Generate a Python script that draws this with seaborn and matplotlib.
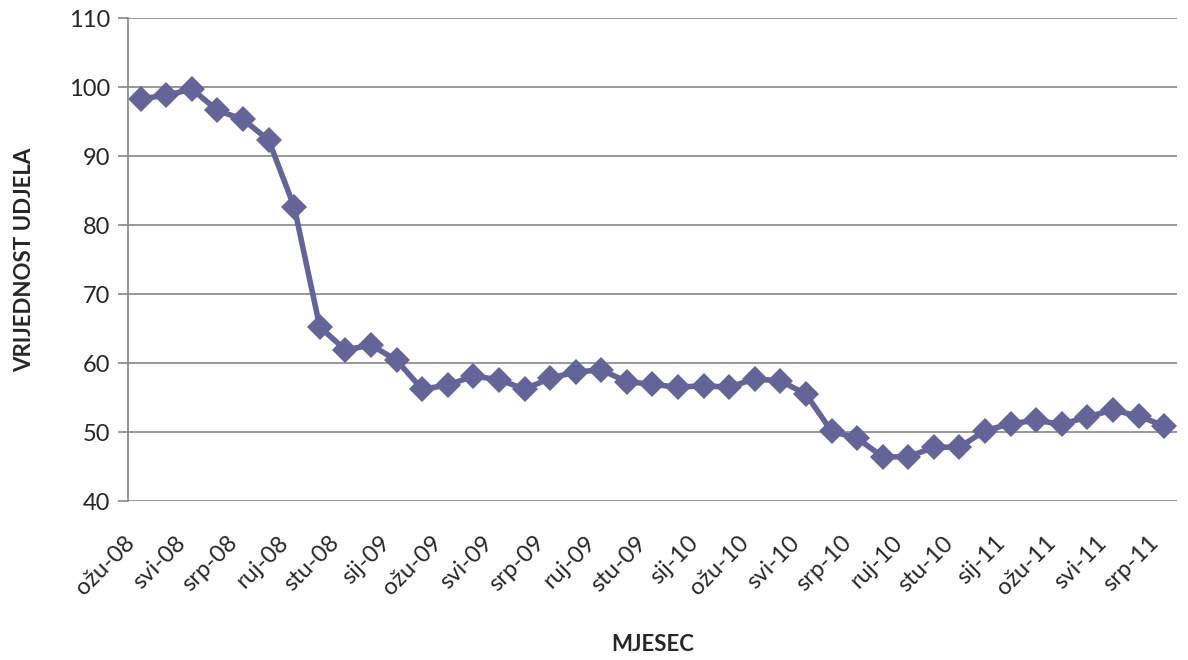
import matplotlib
matplotlib.use("Agg")
import matplotlib.pyplot as plt
import matplotlib.transforms as mtransforms
import seaborn as sns
import pandas as pd

# mjeseci: ožu-08 .. srp-11 (41 mjesec)
MONTHS = ['sij', 'velj', 'ožu', 'tra', 'svi', 'lip', 'srp', 'kol', 'ruj', 'lis', 'stu', 'pro']
month_labels = []
for k in range(41):
    m = (2 + k) % 12
    y = 8 + (2 + k) // 12
    month_labels.append(f"{MONTHS[m]}-{y:02d}")

values = [98.3, 98.8, 99.7, 96.6, 95.3, 92.3, 82.6, 65.2, 61.9, 62.6,
          60.4, 56.2, 56.8, 58.1, 57.6, 56.2, 57.8, 58.7, 59.0, 57.3,
          56.9, 56.5, 56.7, 56.5, 57.7, 57.4, 55.5, 50.1, 49.1, 46.4,
          46.4, 47.8, 47.8, 50.2, 51.2, 51.7, 51.1, 52.2, 53.2, 52.3, 50.9]

df = pd.DataFrame({'idx': range(len(values)), 'mjesec': month_labels, 'vrijednost': values})

sns.set_style("white")
plt.rcParams['font.family'] = ['Lato', 'DejaVu Sans']

fig = plt.figure(figsize=(11.88, 6.6), dpi=100)
ax = fig.add_axes([0.1077, 0.2409, 0.8830, 0.7318])

sns.lineplot(data=df, x='idx', y='vrijednost', ax=ax, color='#646498',
             linewidth=4, marker='D', markersize=13, markeredgewidth=0)

ax.set_xlim(-0.5, len(values) - 0.5)
ax.set_ylim(40, 110)
ax.set_yticks(range(40, 111, 10))
ax.yaxis.grid(True, color='#868686', linewidth=1.2)
ax.xaxis.grid(False)
ax.set_axisbelow(True)

for s in ['top', 'right', 'bottom']:
    ax.spines[s].set_visible(False)
ax.spines['left'].set_color('#868686')
ax.spines['left'].set_linewidth(1.2)

ax.tick_params(axis='y', which='major', left=True, length=7, width=1.2,
               color='#868686', labelsize=17, pad=6)
ax.tick_params(axis='x', bottom=False, labelsize=17, pad=19)

tick_pos = list(range(0, len(values), 2))
ax.set_xticks(tick_pos)
ax.set_xticklabels([month_labels[i] for i in tick_pos], rotation=45,
                   ha='right', rotation_mode='anchor')
offset = mtransforms.ScaledTranslation(-12 / 72, 0, fig.dpi_scale_trans)
for lbl in ax.get_xticklabels():
    lbl.set_transform(lbl.get_transform() + offset)

ax.set_xlabel("MJESEC", fontsize=16, fontweight='bold')
ax.xaxis.set_label_coords(0.5, -0.275)
ax.set_ylabel("VRIJEDNOST UDJELA", fontsize=16, fontweight='bold', labelpad=24)

fig.savefig("out.png", dpi=100)
